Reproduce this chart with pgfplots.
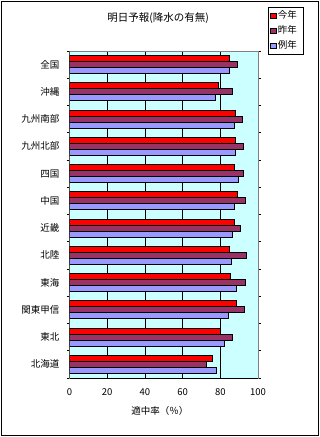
\documentclass[border=0pt]{standalone}
\usepackage{pgfplots}
\pgfplotsset{compat=1.18}
\usepackage{fontspec}
\setmainfont{Noto Sans CJK JP}
\definecolor{cRed}{HTML}{FF0000}
\definecolor{cPur}{HTML}{993366}
\definecolor{cBlu}{HTML}{9999FF}
\definecolor{cBg}{HTML}{CCFFFF}
\begin{document}
\begin{tikzpicture}
\path (0,0) rectangle (320bp,437bp);
\draw[line width=0.8bp] (1bp,2bp) rectangle (318bp,436bp);
\begin{axis}[
  at={(69.5bp,59bp)}, anchor=south west,
  scale only axis, width=188.5bp, height=327bp,
  xbar=0pt, bar width=6bp,
  xmin=0, xmax=100, ymin=-0.5, ymax=11.5,
  y dir=reverse,
  axis background/.style={fill=cBg},
  axis line style={draw=gray, line width=0.8bp},
  xtick={0,20,40,60,80,100},
  xmajorgrids, major grid style={black, line width=0.8bp},
  major tick length=0pt,
  ytick={0,...,11},
  yticklabels={全国,沖縄,九州南部,九州北部,四国,中国,近畿,北陸,東海,関東甲信,東北,北海道},
  minor ytick={-0.5,0.5,...,11.5},
  minor tick length=2.5bp,
  minor tick style={black, line width=0.8bp},
  /pgf/number format/assume math mode=true,
  tick label style={font=\fontsize{9.5bp}{11bp}\selectfont},
  yticklabel style={inner sep=0pt, xshift=-10bp},
  xticklabel style={inner sep=0pt, yshift=-10.5bp},
  xlabel={適中率（％）},
  xlabel style={font=\fontsize{9.5bp}{11bp}\selectfont, at={(axis description cs:0.48,0)}, anchor=center, yshift=-32.5bp},
  title={明日予報(降水の有無)},
  title style={font=\fontsize{10.5bp}{12bp}\selectfont, at={(axis description cs:0.47,1)}, anchor=center, yshift=27bp},
  legend style={at={(axis description cs:1.053,1.136)}, anchor=north west,
    draw=black, line width=0.8bp, fill=white, font=\fontsize{9.5bp}{11bp}\selectfont,
    row sep=2.5bp, inner xsep=2bp, inner ysep=2.5bp,
    nodes={inner sep=1.5bp, text width=22bp, align=left}},
  legend cell align=left,
]
\addplot[fill=cRed, draw=black, line width=0.9bp, bar shift=6bp,
  legend image code/.code={\draw[fill=cRed,draw=black,line width=0.6bp] (0bp,-2.7bp) rectangle (5.5bp,2.7bp);}]
  coordinates {(84.9,0) (78.9,1) (87.9,2) (87.9,3) (87.3,4) (88.9,5) (87.3,6) (84.9,7) (85.4,8) (88.4,9) (79.9,10) (75.7,11)};
\addplot[fill=cPur, draw=black, line width=0.9bp, bar shift=0bp,
  legend image code/.code={\draw[fill=cPur,draw=black,line width=0.6bp] (0bp,-2.7bp) rectangle (5.5bp,2.7bp);}]
  coordinates {(89.1,0) (86.3,1) (91.8,2) (92.1,3) (92.1,4) (93.2,5) (90.5,6) (93.7,7) (93.2,8) (92.6,9) (86.3,10) (72.5,11)};
\addplot[fill=cBlu, draw=black, line width=0.9bp, bar shift=-6bp,
  legend image code/.code={\draw[fill=cBlu,draw=black,line width=0.6bp] (0bp,-2.7bp) rectangle (5.5bp,2.7bp);}]
  coordinates {(84.9,0) (77.3,1) (87.3,2) (87.9,3) (89.5,4) (87.3,5) (86.3,6) (85.7,7) (88.4,8) (84.2,9) (82.0,10) (77.8,11)};
\legend{今年,昨年,例年}
\draw[black, line width=0.8bp] (rel axis cs:0,0) -- (rel axis cs:0,1);
\draw[black, line width=0.8bp] (rel axis cs:0,0) -- (rel axis cs:1,0);
\end{axis}
\end{tikzpicture}
\end{document}
